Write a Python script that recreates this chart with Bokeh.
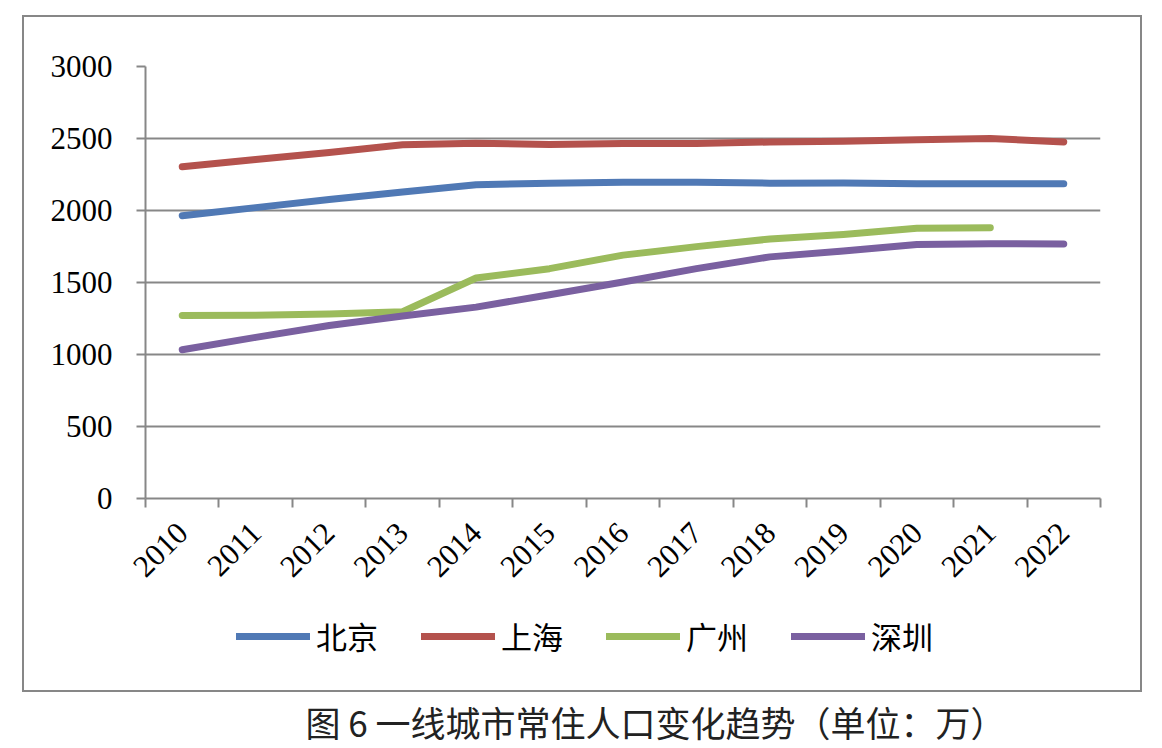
import math
from bokeh.plotting import figure
from bokeh.layouts import column
from bokeh.models import Range1d, FixedTicker, Legend, LegendItem, Label
from bokeh.embed import file_html
from bokeh.resources import INLINE

# ---------------- data ----------------
years = ["2010", "2011", "2012", "2013", "2014", "2015", "2016",
         "2017", "2018", "2019", "2020", "2021", "2022"]
beijing = [1964, 2020, 2076, 2128, 2179, 2190, 2196, 2196, 2190, 2191, 2186, 2186, 2186]
shanghai = [2304, 2354, 2403, 2456, 2467, 2458, 2465, 2465, 2476, 2481, 2492, 2500, 2476]
guangzhou = [1271, 1273, 1282, 1297, 1531, 1596, 1690, 1749, 1802, 1834, 1876, 1881]
shenzhen = [1033, 1119, 1201, 1268, 1329, 1415, 1503, 1596, 1678, 1718, 1764, 1769, 1767]
series_names = ["北京", "上海", "广州", "深圳"]
series_colors = ["#5079B5", "#B4524D", "#9BBB5C", "#7A60A0"]
y_ticks = [0, 500, 1000, 1500, 2000, 2500, 3000]
caption = "图 6  一线城市常住人口变化趋势（单位：万）"

GRAY = "#878787"
NUM_FONT = "Liberation Serif"
CJK_FONT = "Noto Sans CJK SC"
BORDER = f"2.5px solid {GRAY}"
ML, MR = 121, 44   # shared left / right borders of all stacked figures

series = [beijing, shanghai, guangzhou, shenzhen]
xs = [i + 0.5 for i in range(len(years))]   # category centres

# ---------------- chart (upper part of the bordered box) ----------------
p = figure(width=1120, height=585, output_backend="svg", toolbar_location=None,
           x_range=Range1d(0, len(years)), y_range=Range1d(0, 3000),
           min_border_left=ML, min_border_right=MR, min_border_top=49,
           min_border_bottom=104,
           margin=(15, 0, 0, 22),
           styles={"border-top": BORDER, "border-left": BORDER, "border-right": BORDER})
p.background_fill_color = "white"
p.border_fill_color = "white"
p.outline_line_color = None

for vals, col in zip(series, series_colors):
    p.line(xs[:len(vals)], vals, line_color=col, line_width=7, line_cap="round",
           line_join="round")

p.xgrid.visible = False
p.ygrid.ticker = FixedTicker(ticks=y_ticks)
p.ygrid.grid_line_color = GRAY
p.ygrid.grid_line_width = 2

p.yaxis.ticker = FixedTicker(ticks=y_ticks)
p.yaxis.axis_line_color = GRAY
p.yaxis.axis_line_width = 2
p.yaxis.major_tick_line_color = GRAY
p.yaxis.major_tick_line_width = 2
p.yaxis.major_tick_out = 9
p.yaxis.major_tick_in = 0
p.yaxis.minor_tick_line_color = None
p.yaxis.major_label_text_font = NUM_FONT
p.yaxis.major_label_text_font_size = "31px"
p.yaxis.major_label_text_color = "black"
p.yaxis.major_label_standoff = 24

p.xaxis.ticker = FixedTicker(ticks=xs, minor_ticks=list(range(len(years) + 1)))
p.xaxis.major_label_overrides = {x: y for x, y in zip(xs, years)}
p.xaxis.axis_line_color = GRAY
p.xaxis.axis_line_width = 2
p.xaxis.major_tick_line_color = None
p.xaxis.major_tick_out = 0
p.xaxis.major_tick_in = 0
p.xaxis.minor_tick_line_color = GRAY
p.xaxis.minor_tick_line_width = 2
p.xaxis.minor_tick_out = 9
p.xaxis.minor_tick_in = 0
p.xaxis.major_label_orientation = math.pi / 4
p.xaxis.major_label_text_font = NUM_FONT
p.xaxis.major_label_text_font_size = "31px"
p.xaxis.major_label_text_color = "black"
p.xaxis.major_label_standoff = 20

# ---------------- legend (lower part of the bordered box) ----------------
lf = figure(width=1120, height=92, output_backend="svg", toolbar_location=None,
            x_range=Range1d(0, 1), y_range=Range1d(0, 1),
            x_axis_location=None, y_axis_location=None,
            min_border_left=ML, min_border_right=MR, min_border_top=0, min_border_bottom=0,
            margin=(0, 0, 0, 22),
            styles={"border-left": BORDER, "border-right": BORDER, "border-bottom": BORDER})
lf.grid.visible = False
lf.outline_line_color = None
lf.background_fill_color = "white"
lf.border_fill_color = "white"
# the series again (they fall outside this strip's range; only their legend glyphs show)
legend_renderers = [lf.line(xs[:len(vals)], vals, line_color=col, line_width=7, line_cap="round")
                    for vals, col in zip(series, series_colors)]
legend = Legend(items=[LegendItem(label=n, renderers=[r])
                       for n, r in zip(series_names, legend_renderers)],
                orientation="horizontal", location=(91, 34),
                glyph_width=74, glyph_height=20, label_standoff=6, spacing=43,
                padding=0, margin=0, border_line_alpha=0, background_fill_alpha=0,
                label_text_font=CJK_FONT, label_text_font_size="31px",
                label_text_color="black")
lf.add_layout(legend)

# ---------------- caption (below the box) ----------------
c = figure(width=1120, height=56, output_backend="svg", toolbar_location=None,
           x_range=Range1d(0, 1), y_range=Range1d(0, 1),
           x_axis_location=None, y_axis_location=None,
           min_border_left=ML, min_border_right=MR, min_border_top=0, min_border_bottom=0,
           margin=(0, 0, 0, 22))
c.grid.visible = False
c.outline_line_color = None
c.background_fill_color = "white"
c.border_fill_color = "white"
c.add_layout(Label(x=162, y=27, x_units="screen", y_units="screen", text=caption,
                   text_font=CJK_FONT, text_font_size="35px", text_color="#222222",
                   text_baseline="middle", text_align="left"))

layout = column(p, lf, c, spacing=0)
open("out.html", "w").write(file_html(layout, INLINE))
